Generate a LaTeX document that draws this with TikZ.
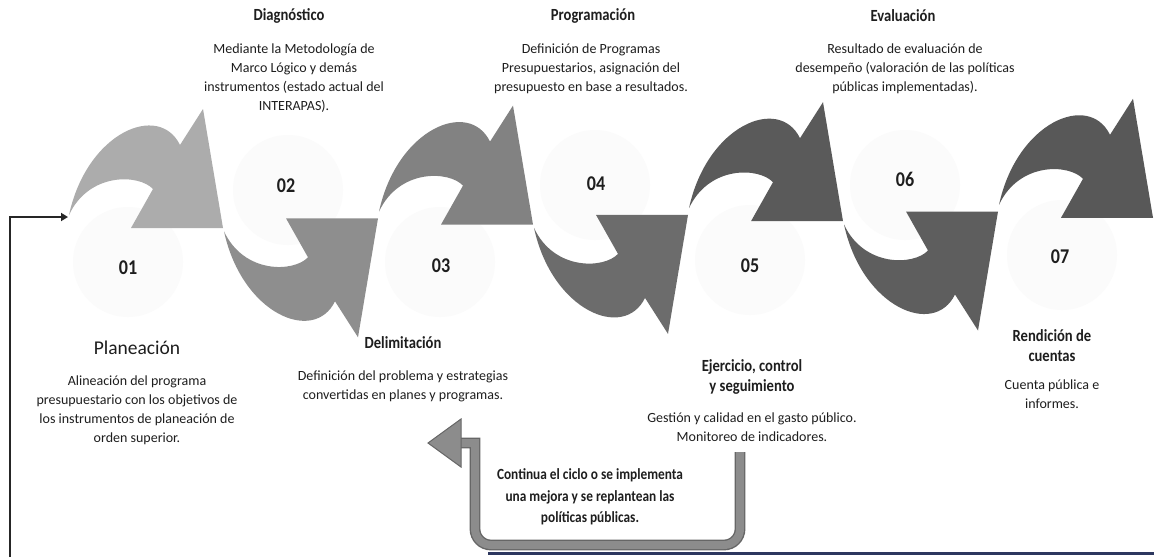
\documentclass[tikz,border=0pt]{standalone}
\usepackage{fontspec}
\setmainfont{Carlito}
\newfontfamily\condfont{Carlito}[FakeStretch=0.86]
\usetikzlibrary{arrows.meta}
\definecolor{c01}{RGB}{172,172,172}
\definecolor{c02}{RGB}{142,142,142}
\definecolor{c03}{RGB}{130,130,130}
\definecolor{c04}{RGB}{108,108,108}
\definecolor{c05}{RGB}{90,90,90}
\definecolor{c06}{RGB}{94,94,94}
\definecolor{c07}{RGB}{88,88,88}
\definecolor{txt}{RGB}{30,30,30}
\definecolor{navy}{RGB}{45,55,95}
\tikzset{
  uarrow/.pic={\fill[pic actions] (0,-9) .. controls (18,-92) and (90,-122) .. (111,-79) -- (134,-115) -- (154,4) -- (62,4) -- (84,-35) .. controls (70,-50) and (20,-52) .. (0,-9) -- cycle;},
  larrow/.pic={\fill[pic actions] (0,9) .. controls (18,92) and (90,122) .. (111,79) -- (134,115) -- (154,-4) -- (62,-4) -- (84,35) .. controls (70,50) and (20,52) .. (0,9) -- cycle;},
  halo/.style={fill=black!1.5, draw=none},
  num/.style={font=\condfont\bfseries\fontsize{21}{22}\selectfont, text=txt},
  ttl/.style={font=\condfont\bfseries\fontsize{17}{20}\selectfont, text=txt, align=center},
  body/.style={font=\fontsize{14}{19}\selectfont, text=txt, align=center},
  big/.style={font=\fontsize{19.5}{22}\selectfont, text=txt, align=center},
  fbtext/.style={font=\condfont\bfseries\fontsize{15.5}{21.5}\selectfont, text=txt, align=center},
  fbshaft/.style={draw=black!60, line width=1.4pt, double=black!45, double distance=8pt},
  fbhead/.style={fill=black!45, draw=black!60, line width=1pt},
  loopline/.style={draw=black!85, line width=2pt, -{Triangle[length=7pt,width=8pt]}},
}
\begin{document}
\begin{tikzpicture}[x=1pt,y=-1pt]
\useasboundingbox (0,0) rectangle (1154,557);
\fill[white] (0,0) rectangle (1154,557);
% faint halos
\foreach \x/\y in {128/262, 288/190, 440/262, 595/185, 750/260, 905/185, 1062/255}
  \fill[halo] (\x,\y) circle (55);
% arrows
\pic[fill=c01] at (69,224) {uarrow};
\pic[fill=c02] at (224,222.3) {larrow};
\pic[fill=c03] at (379,220.6) {uarrow};
\pic[fill=c04] at (534,218.9) {larrow};
\pic[fill=c05] at (689,217.2) {uarrow};
\pic[fill=c06] at (844,215.5) {larrow};
\pic[fill=c07] at (999,213.8) {uarrow};
% numbers
\node[num] (n01) at (128,268) {01};
\node[num] (n02) at (286,186) {02};
\node[num] (n03) at (441,266) {03};
\node[num] (n04) at (596,184) {04};
\node[num] (n05) at (750,266) {05};
\node[num] (n06) at (905,179) {06};
\node[num] (n07) at (1060,257) {07};
% top texts
\node[ttl] (t02) at (289,16) {Diagnóstico};
\node[body] (b02) at (294,78) {Mediante la Metodología de\\Marco Lógico y demás\\instrumentos (estado actual del\\INTERAPAS).};
\node[ttl] (t04) at (593,16) {Programación};
\node[body] (b04) at (591,69) {Definición de Programas\\Presupuestarios, asignación del\\presupuesto en base a resultados.};
\node[ttl] (t06) at (903,16) {Evaluación};
\node[body] (b06) at (905,69) {Resultado de evaluación de\\desempeño (valoración de las políticas\\públicas implementadas).};
% bottom texts
\node[big] (t01) at (137,348) {Planeación};
\node[body] (b01) at (137,410) {Alineación del programa\\presupuestario con los objetivos de\\los instrumentos de planeación de\\orden superior.};
\node[ttl] (t03) at (403,343) {Delimitación};
\node[body] (b03) at (403,386) {Definición del problema y estrategias\\convertidas en planes y programas.};
\node[ttl] (t05) at (752,377) {Ejercicio, control\\y seguimiento};
\node[body] (b05) at (752,427) {Gestión y calidad en el gasto público.\\Monitoreo de indicadores.};
\node[ttl] (t07) at (1052,346) {Rendición de\\cuentas};
\node[body] (b07) at (1052,394) {Cuenta pública e\\informes.};
% feedback
\node[fbtext] (fb) at (590,497) {Continua el ciclo o se implementa\\una mejora y se replantean las\\políticas públicas.};
\coordinate (fbstart) at (740,452);
\coordinate (fbcorner) at (475,545);
\coordinate (fbend) at (461,443);
\draw[fbshaft, rounded corners=16] (fbstart) -- (fbstart |- fbcorner) -- (fbcorner) [sharp corners] -- (fbcorner |- fbend) -- (fbend);
\fill[fbhead] (428,443) -- (461,419) -- (461,467) -- cycle;
% loop line to first arrow
\coordinate (loopfoot) at (10,557);
\coordinate (p01) at (68,217);
\draw[loopline] (loopfoot) -- (loopfoot |- p01) -- (p01);
% bottom rule
\coordinate (ruleA) at (488,553);
\coordinate (ruleB) at (1154,553);
\draw[navy, line width=3pt] (ruleA) -- (ruleB);
\end{tikzpicture}
\end{document}
